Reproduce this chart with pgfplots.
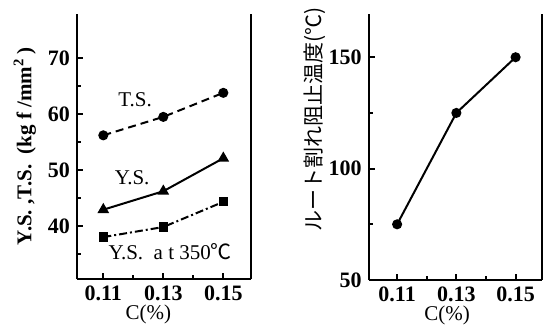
\documentclass[border=0pt]{standalone}
\usepackage{pgfplots}
\pgfplotsset{compat=1.18}
\usepackage{fontspec}
\setmainfont{Liberation Serif}
\newfontfamily\cjk{Noto Sans CJK JP}

\begin{document}
\begin{tikzpicture}
\useasboundingbox (0,-25pt) rectangle (272pt,139.5pt);
\pgfplotsset{
  myax/.style={
    scale only axis,
    anchor=south west,
    axis x line=bottom, axis y line=box,
    axis line style={-, line width=1.2pt},
    ytick pos=left, xtick pos=bottom,
    tick align=inside,
    major tick length=3pt, minor tick length=2pt,
    every tick/.style={black, line width=0.9pt},
    xtick={0.11,0.13,0.15}, xticklabels={0.11,0.13,0.15},
    minor xtick={0.12,0.14},
    tick label style={font=\fontsize{11}{13}\selectfont\bfseries},
    label style={font=\fontsize{10.5}{12}\selectfont},
    /pgf/number format/assume math mode=true,
    clip=false,
  }
}
\begin{axis}[myax,
  at={(38.5pt,0pt)},
  width=87pt, height=132.5pt,
  xmin=0.10123, xmax=0.15923, ymin=30.5, ymax=77.9,
  ytick={40,50,60,70}, minor ytick={35,45,55,65},
  xlabel={C(\%)},
  xlabel style={at={(axis description cs:0.41,-0.135)}, anchor=center},
  ylabel={\bfseries Y.S.\ ,T.S.\ \ (kg f /mm\textsuperscript{2}\,)},
  ylabel style={at={(axis description cs:-0.30,0.5)}, anchor=center},
]
\addplot[black, line width=1pt, dash pattern=on 4pt off 2.5pt, mark=*, mark size=2pt, mark options={solid}]
  coordinates {(0.11,56.2) (0.13,59.5) (0.15,63.8)};
\addplot[black, line width=1pt, mark=triangle*, mark size=2.4pt]
  coordinates {(0.11,42.9) (0.13,46.2) (0.15,52.1)};
\addplot[black, line width=1pt, dash pattern=on 4pt off 1.5pt on 1pt off 1.5pt, mark=square*, mark size=1.8pt, mark options={solid}]
  coordinates {(0.11,38.0) (0.13,39.8) (0.15,44.3)};
\node[font=\fontsize{10.5}{12}\selectfont] at (axis cs:0.1206,62.5) {T.S.};
\node[font=\fontsize{10.5}{12}\selectfont] at (axis cs:0.1196,48.6) {Y.S.};
\node[font=\fontsize{10.5}{12}\selectfont] at (axis cs:0.1323,35.4) {Y.S.\ \ a t 350{\cjk ℃}};
\end{axis}

\begin{axis}[myax,
  at={(184.35pt,-0.5pt)},
  width=86.5pt, height=133pt,
  xmin=0.10041, xmax=0.15881, ymin=50, ymax=169.4,
  ytick={50,100,150}, minor ytick={75,125},
  xlabel={C(\%)},
  xlabel style={at={(axis description cs:0.453,-0.135)}, anchor=center},
  ylabel={{\cjk\fontsize{10.5}{12}\selectfont ルート割れ阻止温度(℃)}},
  ylabel style={at={(axis description cs:-0.314,0.605)}, anchor=center},
]
\addplot[black, line width=1pt, mark=*, mark size=2pt]
  coordinates {(0.11,75) (0.13,125) (0.15,150)};
\end{axis}
\end{tikzpicture}
\end{document}
